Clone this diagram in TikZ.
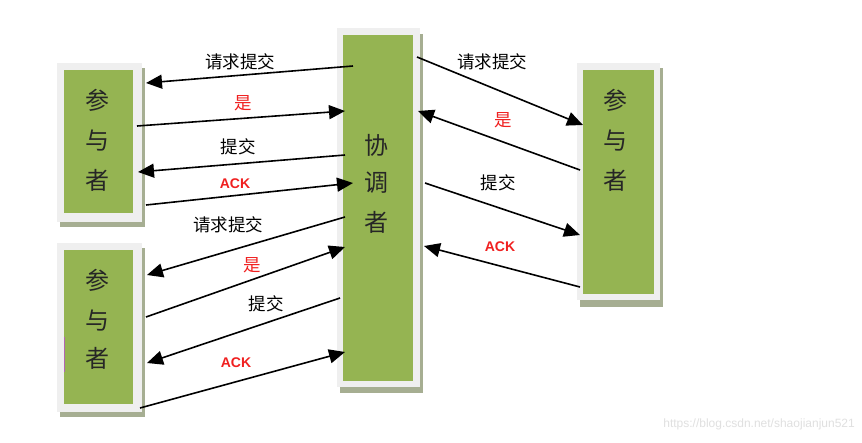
\documentclass[tikz,border=0pt]{standalone}
\usepackage{fontspec}
\setmainfont{Liberation Sans}
\newfontfamily\cjk{Noto Sans CJK SC}
\usetikzlibrary{arrows.meta}
\definecolor{boxgreen}{HTML}{95B452}
\definecolor{boxframe}{HTML}{EFEFEF}
\definecolor{boxshadow}{HTML}{A6AE92}
\definecolor{ackred}{HTML}{F02020}
\begin{document}
\begin{tikzpicture}[x=1pt,y=-1pt,
  arr/.style={line width=1.6pt,-{Triangle[length=16pt,width=14pt]}},
  lbl/.style={font=\cjk\fontsize{17.5}{17.5}\selectfont,text=black,inner sep=0pt},
  redlbl/.style={font=\cjk\fontsize{17.5}{17.5}\selectfont,text=ackred,inner sep=0pt},
  acklbl/.style={font=\bfseries\fontsize{14}{14}\selectfont,text=ackred,inner sep=0pt},
  boxtxt/.style={font=\cjk\fontsize{24}{24}\selectfont,text=black!85,inner sep=0pt},
  greenbox/.style={fill=boxgreen,draw=none,inner sep=0pt,anchor=north west}]
\useasboundingbox (0,0) rectangle (862,442);
\fill[white] (0,0) rectangle (862,442);
% ---------- shadows and frames ----------
% left top participant
\fill[boxshadow] (60,68) rectangle (145,227);
\fill[boxframe] (57,63) rectangle (142,222);
\node[greenbox,minimum width=69pt,minimum height=143pt] (p1) at (64,70) {};
% left bottom participant
\fill[boxshadow] (60,248) rectangle (145,417);
\fill[boxframe] (57,243) rectangle (142,412);
\node[greenbox,minimum width=69pt,minimum height=154pt] (p2) at (64,250) {};
\draw[color=violet!60,line width=1pt] (64.5,337) -- (64.5,372);
% coordinator
\fill[boxshadow] (340,34) rectangle (423,393);
\fill[boxframe] (337,28) rectangle (420,387);
\node[greenbox,minimum width=70pt,minimum height=346pt] (c) at (343,35) {};
% right participant
\fill[boxshadow] (580,68) rectangle (663,307);
\fill[boxframe] (577,63) rectangle (660,300);
\node[greenbox,minimum width=71pt,minimum height=224pt] (p3) at (583,70) {};
% ---------- box texts ----------
\node[boxtxt] (p1a) at (97,100) {参};
\node[boxtxt] (p1b) at (97,141) {与};
\node[boxtxt] (p1c) at (97,180) {者};
\node[boxtxt] (p2a) at (97,280) {参};
\node[boxtxt] (p2b) at (97,321) {与};
\node[boxtxt] (p2c) at (97,358) {者};
\node[boxtxt] (p3a) at (615,100) {参};
\node[boxtxt] (p3b) at (615,141) {与};
\node[boxtxt] (p3c) at (615,180) {者};
\node[boxtxt] (ca) at (376,145) {协};
\node[boxtxt] (cb) at (376,183) {调};
\node[boxtxt] (cc) at (376,222) {者};
% ---------- connector end points ----------
\coordinate (a1s) at (353,66);  \coordinate (a1e) at (146,83);
\coordinate (a2s) at (137,126); \coordinate (a2e) at (345,111);
\coordinate (a3s) at (345,155); \coordinate (a3e) at (138,172);
\coordinate (a4s) at (146,205); \coordinate (a4e) at (353,183);
\coordinate (a5s) at (345,217); \coordinate (a5e) at (147,275);
\coordinate (a6s) at (146,317); \coordinate (a6e) at (345,247);
\coordinate (a7s) at (340,298); \coordinate (a7e) at (147,363);
\coordinate (a8s) at (140,408); \coordinate (a8e) at (345,352);
\coordinate (a9s) at (417,57);  \coordinate (a9e) at (583,125);
\coordinate (a10s) at (580,170); \coordinate (a10e) at (418,111);
\coordinate (a11s) at (425,183); \coordinate (a11e) at (580,235);
\coordinate (a12s) at (580,287); \coordinate (a12e) at (424,246);
% ---------- connectors ----------
\foreach \i in {1,...,12} {\draw[arr] (a\i s) -- (a\i e);}
% ---------- labels ----------
\node[lbl] (l1) at (240,62) {请求提交};
\node[redlbl] (l2) at (243,103) {是};
\node[lbl] (l3) at (238,147) {提交};
\node[acklbl] (l4) at (235,184) {ACK};
\node[lbl] (l5) at (228,225) {请求提交};
\node[redlbl] (l6) at (252,265) {是};
\node[lbl] (l7) at (266,304) {提交};
\node[acklbl] (l8) at (236,363) {ACK};
\node[lbl] (l9) at (492,62) {请求提交};
\node[redlbl] (l10) at (503,120) {是};
\node[lbl] (l11) at (498,183) {提交};
\node[acklbl] (l12) at (500,247) {ACK};
% watermark
\node[font=\fontsize{12}{12}\selectfont,text=black!12,anchor=east,inner sep=0pt] (wm) at (855,424) {https://blog.csdn.net/shaojianjun521};
\end{tikzpicture}
\end{document}
